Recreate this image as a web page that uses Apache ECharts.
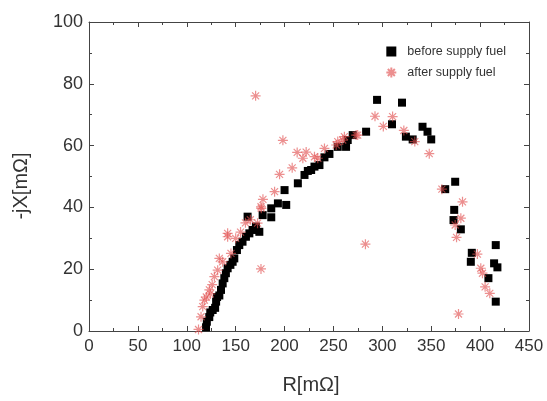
<!DOCTYPE html>
<html>
<head>
<meta charset="utf-8">
<script src="https://cdn.jsdelivr.net/npm/echarts@6/dist/echarts.min.js"></script>
<style>html,body{margin:0;padding:0;background:#fff}#c{width:547px;height:401px}</style>
</head>
<body>
<div id="c"></div>
<script>
const seriesNames = ['before supply fuel', 'after supply fuel'];
const xTicks = [0, 50, 100, 150, 200, 250, 300, 350, 400, 450];
const yTicks = [0, 20, 40, 60, 80, 100];
const beforeFuel = [
  [119.7,1.2],[120.5,3],[123,4.5],[124,6],[126.5,6.8],[129,7.5],[130,9.5],[131,11],[133.3,11.5],[135,13.3],
  [136.7,15.4],[138.4,17.1],[140,18.7],[141.8,20.3],[144.6,21.4],[146.9,22.4],[148.6,23.5],[151.3,26.2],[153.7,27.8],[157,28.9],
  [160.5,30.5],[164,31.6],[167.3,32.7],[170.7,33.8],[174.2,32.1],[162.2,37.0],[177.6,37.5],[186.4,36.8],[186.4,39.7],[193.2,41.3],
  [201.7,40.8],[200,45.6],[213.6,47.8],[220.4,50.5],[223.8,51.8],[227.2,52.1],[230.6,53.2],[235.7,53.7],[240.8,56.2],[245.9,57.3],
  [254.4,59.6],[262.9,59.6],[264.6,61.8],[269.7,63.4],[283.4,64.5],[294.6,74.8],[320.1,73.9],[309.9,66.9],[324.1,62.9],[331,62.0],
  [341.1,66.1],[346.2,64.5],[350,62],[364.3,45.9],[374.5,48.3],[373.5,39.2],[372.8,35.9],[380.3,32.9],[391.5,25.3],[390.5,22.4],
  [416,27.8],[414.3,21.9],[417.7,20.6],[408.5,17.1],[416,9.5]
];
const afterFuel = [
  [112,0.5],[114.6,4.6],[116.3,7.9],[118,10],[120,11],[123.1,13.3],[124,12],[126,15],[128.2,17.6],[131.6,19.7],
  [133.3,23.5],[136.7,22.4],[141.8,30.5],[141.8,31.6],[145.2,25.1],[150,30],[155,32],[160,35],[165,36],[172.4,34.9],
  [175.9,40.2],[177.9,42.6],[176.2,39.7],[189.8,45.1],[194.9,50.7],[198.3,61.7],[207.8,52.8],[212.9,57.8],[222.1,57.9],[218.7,55.9],
  [230.6,56.4],[234,55.9],[240.8,59.1],[252.8,60.2],[254.4,61.3],[259.5,61.8],[261.2,62.9],[273.2,63.4],[274.8,63.4],[292.5,69.5],
  [301,66.2],[310.5,69.4],[322,64.9],[333.2,61.3],[348,57.4],[360.9,45.9],[382,41.8],[380.3,36.5],[374.5,34.3],[375.9,30.3],
  [397.2,24.9],[400.7,20.3],[402.4,18.7],[405.1,14.3],[409.9,12.2],[377.9,5.5],[170.4,76.1],[282.7,28.1],[175.9,20.1]
];

const star = 'path://M5,0L5,10M0,5L10,5M1.5,1.5L8.5,8.5M8.5,1.5L1.5,8.5';
const axisCol = '#444';
const ff = 'Liberation Sans, Arial';
function mkX(pos, show) {
  return {
    type: 'value', position: pos, min: 0, max: 450, interval: 50,
    axisLine: {show: true, onZero: false, lineStyle: {color: axisCol, width: 1}},
    axisTick: {show: true, inside: true, length: 5, lineStyle: {color: axisCol}},
    minorTick: {show: true, splitNumber: 2, length: 3, lineStyle: {color: axisCol}},
    axisLabel: {show: show, color: '#333', fontSize: 17, fontFamily: ff, margin: 7},
    splitLine: {show: false}
  };
}
function mkY(pos, show) {
  return {
    type: 'value', position: pos, min: 0, max: 100, interval: 20,
    axisLine: {show: true, onZero: false, lineStyle: {color: axisCol, width: 1}},
    axisTick: {show: true, inside: true, length: 5, lineStyle: {color: axisCol}},
    minorTick: {show: true, splitNumber: 2, length: 3, lineStyle: {color: axisCol}},
    axisLabel: {show: show, color: '#333', fontSize: 18, fontFamily: ff, margin: 6},
    splitLine: {show: false}
  };
}
const chart = echarts.init(document.getElementById('c'), null, {renderer: 'canvas'});
chart.setOption({
  animation: false,
  backgroundColor: '#fff',
  grid: {left: 89, right: 18, top: 22, bottom: 70, containLabel: false},
  xAxis: [mkX('bottom', true), mkX('top', false)],
  yAxis: [mkY('left', true), mkY('right', false)],
  graphic: [
    {type: 'text', style: {text: 'R[mΩ]', fontSize: 20, fill: '#333', fontFamily: ff, align: 'center', verticalAlign: 'middle'}, x: 311, y: 385},
    {type: 'text', style: {text: '-jX[mΩ]', fontSize: 20, fill: '#333', fontFamily: ff, align: 'center', verticalAlign: 'middle'}, x: 21, y: 186, rotation: Math.PI / 2}
  ],
  legend: {
    show: true, orient: 'vertical', right: 36, top: 40, itemGap: 8, itemWidth: 10, itemHeight: 10,
    textStyle: {color: '#333', fontSize: 12.5, fontFamily: ff, padding: [0, 0, 0, 6]},
    data: [
      {name: seriesNames[0], icon: 'rect'},
      {name: seriesNames[1], icon: star}
    ]
  },
  series: [
    {
      name: seriesNames[0], type: 'scatter', data: beforeFuel, symbol: 'rect', symbolSize: 8,
      itemStyle: {color: '#000', opacity: 1}, z: 2
    },
    {
      name: seriesNames[1], type: 'scatter', data: afterFuel, symbol: star, symbolSize: 10,
      itemStyle: {color: 'rgba(230,90,90,0.5)', borderColor: 'rgba(225,80,80,0.8)', borderWidth: 1.2}, z: 3
    }
  ]
});
</script>
</body>
</html>
